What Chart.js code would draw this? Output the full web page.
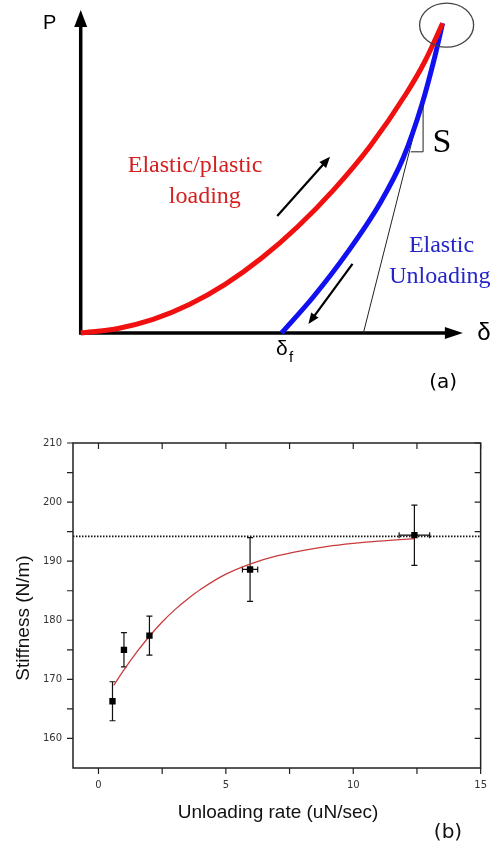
<!DOCTYPE html>
<html>
<head>
<meta charset="utf-8">
<script src="https://cdn.jsdelivr.net/npm/chart.js@4.4.0/dist/chart.umd.min.js"></script>
<style>
body { margin: 0; background: #fff; }
#wrap { position: relative; width: 498px; height: 850px; }
canvas { position: absolute; left: 0; }
</style>
</head>
<body>
<div id="wrap">
  <canvas id="curva" width="498" height="400" style="top:0"></canvas>
  <canvas id="rigidez" width="498" height="450" style="top:400px"></canvas>
</div>
<script>
// (a) esquema carga / descarga (unidades normalizadas)
const cargaD = [0, 0.1, 0.2, 0.3, 0.4, 0.5, 0.6, 0.7, 0.8, 0.9, 0.95, 1.0];
const cargaP = [0, 0.014, 0.044, 0.092, 0.158, 0.242, 0.344, 0.464, 0.604, 0.774, 0.875, 1.0];
const descargaD = [0.555, 0.643, 0.735, 0.827, 0.891, 0.942, 0.979, 1.0];
const descargaP = [0, 0.117, 0.257, 0.419, 0.565, 0.735, 0.895, 1.0];
const tangenteD = [0.781, 0.942];
const tangenteP = [0, 0.742];

// (b) rigidez vs velocidad de descarga
const tasa = [0.55, 1.0, 2.0, 5.95, 12.4];
const rigidez = [166.3, 175.0, 177.4, 188.6, 194.4];
const errRigidez = [3.3, 2.9, 3.3, 5.4, 5.1];
const errTasa = [0, 0, 0, 0.3, 0.6];
const ajusteX = [0.6, 1, 1.5, 2, 2.5, 3, 3.5, 4, 5, 6, 7, 8, 9, 10, 11, 12, 12.4];
const ajusteY = [169.0, 171.6, 174.6, 177.3, 179.7, 181.8, 183.6, 185.2, 187.8, 189.6, 190.9, 191.8, 192.5, 193.0, 193.4, 193.7, 193.8];
const limite = 194.2;
const xTicks = [0, 5, 10, 15];
const yTicks = [160, 170, 180, 190, 200, 210];
const xMenores = [2.5, 7.5, 12.5];
const yMenores = [165, 175, 185, 195, 205];

const puntos = (xs, ys) => xs.map((x, i) => ({x: x, y: ys[i]}));

function punta(ctx, x0, y0, x1, y1, largo, ancho) {
    const a = Math.atan2(y1 - y0, x1 - x0);
    ctx.beginPath();
    ctx.moveTo(x1, y1);
    ctx.lineTo(x1 - largo * Math.cos(a) + ancho * Math.sin(a), y1 - largo * Math.sin(a) - ancho * Math.cos(a));
    ctx.lineTo(x1 - largo * Math.cos(a) - ancho * Math.sin(a), y1 - largo * Math.sin(a) + ancho * Math.cos(a));
    ctx.closePath();
    ctx.fill();
}

const dibujoA = {
    id: 'dibujoA',
    beforeDatasetsDraw(chart) {
        const ctx = chart.ctx, sx = chart.scales.x, sy = chart.scales.y;
        const X = v => sx.getPixelForValue(v), Y = v => sy.getPixelForValue(v);
        ctx.save();
        ctx.strokeStyle = '#000';
        ctx.fillStyle = '#000';
        ctx.lineWidth = 3.5;
        ctx.beginPath();
        ctx.moveTo(X(0), Y(0) + 1.7);
        ctx.lineTo(X(0), Y(1.043) + 10);
        ctx.moveTo(X(0), Y(0));
        ctx.lineTo(X(1.056) - 10, Y(0));
        ctx.stroke();
        punta(ctx, X(0), Y(0), X(0), Y(1.043), 17, 6.5);
        punta(ctx, X(0), Y(0), X(1.056), Y(0), 18, 6);
        ctx.restore();
    },
    afterDatasetsDraw(chart) {
        const ctx = chart.ctx, sx = chart.scales.x, sy = chart.scales.y;
        const X = v => sx.getPixelForValue(v), Y = v => sy.getPixelForValue(v);
        ctx.save();
        // triangulo de la pendiente S
        ctx.strokeStyle = '#222';
        ctx.lineWidth = 1;
        ctx.beginPath();
        ctx.moveTo(X(0.946), Y(0.736));
        ctx.lineTo(X(0.946), Y(0.585));
        ctx.lineTo(X(0.912), Y(0.585));
        ctx.stroke();
        // elipse en el maximo
        ctx.strokeStyle = '#444';
        ctx.lineWidth = 1.3;
        ctx.beginPath();
        ctx.ellipse(X(1.011), Y(0.994), 27, 22, 0, 0, Math.PI * 2);
        ctx.stroke();
        // flechas
        ctx.strokeStyle = '#000';
        ctx.fillStyle = '#000';
        ctx.lineWidth = 2.2;
        const flechas = [[0.543, 0.378, 0.689, 0.569], [0.751, 0.223, 0.629, 0.029]];
        flechas.forEach(f => {
            const x0 = X(f[0]), y0 = Y(f[1]), x1 = X(f[2]), y1 = Y(f[3]);
            const a = Math.atan2(y1 - y0, x1 - x0);
            ctx.beginPath();
            ctx.moveTo(x0, y0);
            ctx.lineTo(x1 - 8 * Math.cos(a), y1 - 8 * Math.sin(a));
            ctx.stroke();
            punta(ctx, x0, y0, x1, y1, 11, 4.5);
        });
        // textos
        ctx.textAlign = 'center';
        ctx.textBaseline = 'alphabetic';
        ctx.fillStyle = '#000';
        ctx.font = '20px "Liberation Sans", Arial, sans-serif';
        ctx.fillText('P', X(-0.0856), Y(0.98));
        ctx.font = '24px "Liberation Sans", Arial, sans-serif';
        ctx.fillText('δ', X(1.114), Y(-0.0226));
        ctx.font = '21px "Liberation Sans", Arial, sans-serif';
        ctx.fillText('δ', X(0.556), Y(-0.07));
        ctx.font = '15px "Liberation Sans", Arial, sans-serif';
        ctx.fillText('f', X(0.581), Y(-0.092));
        ctx.font = '20px "DejaVu Sans", sans-serif';
        ctx.textBaseline = 'middle';
        ctx.fillText('(a)', X(1.0017), Y(-0.161));
        ctx.textBaseline = 'alphabetic';
        ctx.font = '34px "Liberation Serif", "Times New Roman", serif';
        ctx.fillText('S', X(0.998), Y(0.583));
        ctx.font = '24px "Liberation Serif", "Times New Roman", serif';
        ctx.fillStyle = '#d42020';
        ctx.fillText('Elastic/plastic', X(0.316), Y(0.521));
        ctx.fillText('loading', X(0.343), Y(0.421));
        ctx.fillStyle = '#2424c8';
        ctx.fillText('Elastic', X(0.997), Y(0.2625));
        ctx.fillText('Unloading', X(0.9925), Y(0.1605));
        ctx.restore();
    }
};

new Chart(document.getElementById('curva').getContext('2d'), {
    type: 'scatter',
    data: {
        datasets: [
            {data: puntos(cargaD, cargaP), showLine: true, borderColor: '#f01010', borderWidth: 5,
             pointRadius: 0, cubicInterpolationMode: 'monotone'},
            {data: puntos(descargaD, descargaP), showLine: true, borderColor: '#1010f0', borderWidth: 5,
             pointRadius: 0, cubicInterpolationMode: 'monotone'},
            {data: puntos(tangenteD, tangenteP), showLine: true, borderColor: '#222', borderWidth: 1,
             pointRadius: 0}
        ]
    },
    options: {
        responsive: false,
        animation: false,
        layout: {padding: 0},
        plugins: {legend: {display: false}, tooltip: {enabled: false}},
        scales: {
            x: {type: 'linear', min: -0.223, max: 1.153, display: false},
            y: {type: 'linear', min: -0.2163, max: 1.0752, display: false}
        }
    },
    plugins: [dibujoA]
});

const dibujoB = {
    id: 'dibujoB',
    beforeDatasetsDraw(chart) {
        const ctx = chart.ctx, sx = chart.scales.x, sy = chart.scales.y;
        ctx.save();
        ctx.strokeStyle = '#111';
        ctx.lineWidth = 1.2;
        tasa.forEach((t, i) => {
            const x = sx.getPixelForValue(t), y = sy.getPixelForValue(rigidez[i]);
            const yA = sy.getPixelForValue(rigidez[i] + errRigidez[i]);
            const yB = sy.getPixelForValue(rigidez[i] - errRigidez[i]);
            ctx.beginPath();
            ctx.moveTo(x, yA); ctx.lineTo(x, yB);
            ctx.moveTo(x - 3, yA); ctx.lineTo(x + 3, yA);
            ctx.moveTo(x - 3, yB); ctx.lineTo(x + 3, yB);
            if (errTasa[i] > 0) {
                const xA = sx.getPixelForValue(t - errTasa[i]);
                const xB = sx.getPixelForValue(t + errTasa[i]);
                ctx.moveTo(xA, y); ctx.lineTo(xB, y);
                ctx.moveTo(xA, y - 3); ctx.lineTo(xA, y + 3);
                ctx.moveTo(xB, y - 3); ctx.lineTo(xB, y + 3);
            }
            ctx.stroke();
        });
        ctx.restore();
    },
    afterDraw(chart) {
        const ctx = chart.ctx, a = chart.chartArea, sx = chart.scales.x, sy = chart.scales.y;
        ctx.save();
        ctx.strokeStyle = '#222';
        ctx.lineWidth = 1.5;
        ctx.strokeRect(a.left, a.top, a.right - a.left, a.bottom - a.top);
        ctx.lineWidth = 1.2;
        ctx.beginPath();
        xTicks.concat(xMenores).forEach(v => {
            const x = sx.getPixelForValue(v);
            ctx.moveTo(x, a.bottom); ctx.lineTo(x, a.bottom + 6);
            ctx.moveTo(x, a.top); ctx.lineTo(x, a.top + 6);
        });
        yTicks.concat(yMenores).forEach(v => {
            const y = sy.getPixelForValue(v);
            ctx.moveTo(a.left, y); ctx.lineTo(a.left - 6, y);
            ctx.moveTo(a.right, y); ctx.lineTo(a.right - 6, y);
        });
        ctx.stroke();
        ctx.fillStyle = '#111';
        ctx.textAlign = 'center';
        ctx.textBaseline = 'middle';
        ctx.font = '19px "Liberation Sans", Arial, sans-serif';
        ctx.fillText('Unloading rate (uN/sec)', 278, 413);
        ctx.font = '20px "DejaVu Sans", sans-serif';
        ctx.fillText('(b)', 448, 433);
        ctx.translate(23.5, 218);
        ctx.rotate(-Math.PI / 2);
        ctx.font = '19px "Liberation Sans", Arial, sans-serif';
        ctx.fillText('Stiffness (N/m)', 0, 0);
        ctx.restore();
    }
};

new Chart(document.getElementById('rigidez').getContext('2d'), {
    type: 'scatter',
    data: {
        datasets: [
            {data: puntos(tasa, rigidez), pointStyle: 'rect', pointRadius: 4.5,
             backgroundColor: '#000', borderColor: '#000', borderWidth: 0, order: 1},
            {data: puntos(ajusteX, ajusteY), showLine: true, borderColor: '#c83c3c', borderWidth: 1.3,
             pointRadius: 0, cubicInterpolationMode: 'monotone', order: 2},
            {data: [{x: -1, y: limite}, {x: 15, y: limite}], showLine: true, borderColor: '#111',
             borderWidth: 1.6, borderDash: [1.5, 1.5], pointRadius: 0, order: 3}
        ]
    },
    options: {
        responsive: false,
        animation: false,
        layout: {padding: {left: 0, right: 14, top: 43, bottom: 0}},
        plugins: {legend: {display: false}, tooltip: {enabled: false}},
        scales: {
            x: {
                type: 'linear', min: -1, max: 15,
                afterBuildTicks: s => { s.ticks = xTicks.map(v => ({value: v})); },
                afterFit: s => { s.height = 82; },
                grid: {display: false, drawTicks: false},
                border: {display: false},
                ticks: {padding: 11, color: '#333', font: {family: 'DejaVu Sans', size: 10}, maxRotation: 0}
            },
            y: {
                type: 'linear', min: 155, max: 210,
                afterBuildTicks: s => { s.ticks = yTicks.map(v => ({value: v})); },
                afterFit: s => { s.width = 73; },
                grid: {display: false, drawTicks: false},
                border: {display: false},
                ticks: {padding: 11, color: '#333', font: {family: 'DejaVu Sans', size: 10}}
            }
        }
    },
    plugins: [dibujoB]
});
</script>
</body>
</html>
